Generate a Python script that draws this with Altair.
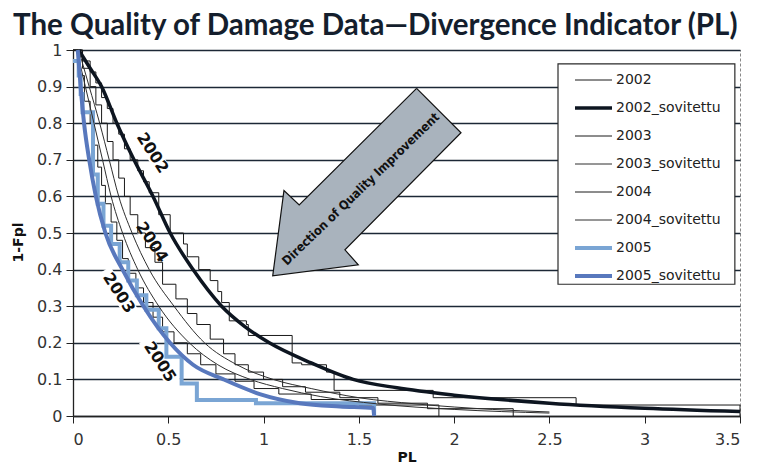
import altair as alt
import pandas as pd

# ---------------- data ----------------
series_names = ["2002", "2002_sovitettu", "2003", "2003_sovitettu",
                "2004", "2004_sovitettu", "2005", "2005_sovitettu"]

# empirical (step) series
x_2002 = [0.0, 0.05, 0.09, 0.12, 0.15, 0.18, 0.21, 0.24, 0.27, 0.3, 0.34, 0.37, 0.4, 0.45,
          0.51, 0.58, 0.6, 0.66, 0.72, 0.76, 0.78, 0.82, 0.91, 0.92, 1.15, 1.2, 1.33, 1.37,
          1.89, 2.64, 3.5]
y_2002 = [1.0, 0.97, 0.94, 0.91, 0.87, 0.84, 0.8, 0.77, 0.73, 0.7, 0.67, 0.64, 0.61, 0.55,
          0.5, 0.47, 0.435, 0.4, 0.37, 0.34, 0.31, 0.26, 0.25, 0.22, 0.145, 0.14, 0.12, 0.07,
          0.05, 0.03, 0.0]

x_2003 = [0.0, 0.03, 0.06, 0.09, 0.11, 0.13, 0.15, 0.17, 0.2, 0.23, 0.26, 0.29, 0.33, 0.37,
          0.42, 0.47, 0.53, 0.6, 0.67, 0.75, 0.85, 0.95, 1.08, 1.25, 1.5, 1.92]
y_2003 = [1.0, 0.93, 0.86, 0.8, 0.74, 0.68, 0.63, 0.58, 0.53, 0.48, 0.43, 0.39, 0.35, 0.31,
          0.27, 0.23, 0.2, 0.17, 0.14, 0.115, 0.095, 0.075, 0.06, 0.045, 0.03, 0.0]

x_2004 = [0.0, 0.05, 0.09, 0.12, 0.15, 0.18, 0.21, 0.24, 0.27, 0.3, 0.34, 0.38, 0.43, 0.47,
          0.54, 0.6, 0.65, 0.72, 0.79, 0.85, 0.92, 1.0, 1.1, 1.22, 1.4, 1.6, 1.86, 2.31]
y_2004 = [1.0, 0.95, 0.9, 0.85, 0.8, 0.75, 0.7, 0.65, 0.6, 0.55, 0.5, 0.46, 0.42, 0.36,
          0.32, 0.28, 0.25, 0.21, 0.17, 0.14, 0.12, 0.1, 0.08, 0.065, 0.05, 0.035, 0.02, 0.0]

x_2005 = [0.0, 0.03, 0.04, 0.05, 0.105, 0.13, 0.16, 0.2, 0.245, 0.29, 0.335, 0.385, 0.45,
          0.49, 0.57, 0.65, 0.96, 1.58]
y_2005 = [0.97, 0.93, 0.88, 0.83, 0.66, 0.58, 0.52, 0.47, 0.42, 0.37, 0.33, 0.29, 0.24,
          0.162, 0.089, 0.044, 0.035, 0.0]

# fitted ("sovitettu") series
x_2002_fit = [0.03, 0.09, 0.15, 0.23, 0.32, 0.42, 0.51, 0.63, 0.78, 0.9, 1.03, 1.25, 1.47,
              1.7, 2.0, 2.5, 3.0, 3.5]
y_2002_fit = [1.0, 0.95, 0.9, 0.8, 0.7, 0.6, 0.5, 0.4, 0.3, 0.245, 0.2, 0.145, 0.1, 0.077,
              0.057, 0.035, 0.021, 0.012]

x_2003_fit = [0.02, 0.065, 0.11, 0.155, 0.2, 0.26, 0.34, 0.45, 0.61, 0.76, 0.93, 1.1, 1.3,
              1.6, 2.0, 2.5]
y_2003_fit = [1.0, 0.9, 0.8, 0.7, 0.6, 0.5, 0.4, 0.3, 0.2, 0.14, 0.1, 0.075, 0.053, 0.033,
              0.018, 0.008]

x_2004_fit = [0.03, 0.085, 0.14, 0.19, 0.24, 0.31, 0.4, 0.53, 0.69, 0.86, 1.05, 1.25, 1.5,
              1.8, 2.2, 2.5]
y_2004_fit = [1.0, 0.9, 0.8, 0.7, 0.6, 0.5, 0.4, 0.3, 0.2, 0.14, 0.1, 0.075, 0.05, 0.033,
              0.018, 0.011]

x_2005_fit = [0.025, 0.04, 0.058, 0.085, 0.12, 0.17, 0.26, 0.37, 0.509, 0.63, 0.79, 0.98,
              1.19, 1.4, 1.575, 1.58]
y_2005_fit = [1.0, 0.9, 0.8, 0.7, 0.6, 0.5, 0.4, 0.3, 0.2, 0.14, 0.1, 0.06, 0.035, 0.026,
              0.022, 0.0]

# annotations
year_labels = ["2002", "2004", "2003", "2005"]
year_label_x = [0.417, 0.414, 0.241, 0.456]
year_label_y = [0.719, 0.475, 0.336, 0.148]

arrow_x = [1.803, 2.036, 1.427, 1.497, 1.048, 1.107, 1.187, 1.803]
arrow_y = [0.895, 0.774, 0.454, 0.413, 0.383, 0.616, 0.577, 0.895]
arrow_text = "Direction of Quality Improvement"
arrow_text_x = [1.51]
arrow_text_y = [0.62]

# legend frame (data units)
legend_box_x = [2.545]
legend_box_x2 = [3.473]
legend_box_y = [0.962]
legend_box_y2 = [0.36]

x_ticks = [0, 0.5, 1, 1.5, 2, 2.5, 3, 3.5]
y_ticks = [0, 0.1, 0.2, 0.3, 0.4, 0.5, 0.6, 0.7, 0.8, 0.9, 1.0]

# ---------------- styles ----------------
series_colors = ["#1a1a1a", "#0d1520", "#1a1a1a", "#2e2e2e",
                 "#1a1a1a", "#2e2e2e", "#7aa5d4", "#5878bd"]
series_widths = [1, 3.5, 1, 1, 1, 1, 4, 4]

# ---------------- tables ----------------
rows = []
def add(name, kind, xs, ys):
    for i, (a, b) in enumerate(zip(xs, ys)):
        rows.append({"series": name, "kind": kind, "x": a, "y": b, "i": i})

add("2002", "step", x_2002, y_2002)
add("2002_sovitettu", "fit", x_2002_fit, y_2002_fit)
add("2003", "step", x_2003, y_2003)
add("2003_sovitettu", "fit", x_2003_fit, y_2003_fit)
add("2004", "step", x_2004, y_2004)
add("2004_sovitettu", "fit", x_2004_fit, y_2004_fit)
add("2005", "step", x_2005, y_2005)
add("2005_sovitettu", "fit", x_2005_fit, y_2005_fit)
df = pd.DataFrame(rows)

labels_df = pd.DataFrame({"text": year_labels, "x": year_label_x, "y": year_label_y})
arrow_df = pd.DataFrame({"x": arrow_x, "y": arrow_y, "i": list(range(len(arrow_x)))})
arrow_text_df = pd.DataFrame({"x": arrow_text_x, "y": arrow_text_y, "text": [arrow_text]})
box_df = pd.DataFrame({"x": legend_box_x, "x2": legend_box_x2,
                       "y": legend_box_y, "y2": legend_box_y2})

FONT = "DejaVu Sans"
NARROW = "DejaVu Sans Condensed, Roboto Condensed, Liberation Sans Narrow, Roboto"

x_enc = alt.X("x:Q",
              scale=alt.Scale(domain=[0, 3.5], nice=False, zero=False),
              axis=alt.Axis(values=x_ticks, format="~g", grid=False, tickSize=7,
                            labelPadding=8, labelFontSize=16, labelFont=FONT,
                            labelColor="#333", tickColor="#222", domainColor="#222",
                            domainWidth=1.3, title="PL", titleFont=FONT,
                            titleFontSize=14, titleFontWeight="bold", titleColor="#111",
                            titleY=41, titleBaseline="middle"))
y_enc = alt.Y("y:Q",
              scale=alt.Scale(domain=[0, 1], nice=False, zero=False),
              axis=alt.Axis(values=y_ticks, format=".1~f", grid=True, gridColor="#1c2836",
                            gridWidth=1.3, tickSize=7, labelPadding=4, labelFontSize=16,
                            labelFont=FONT, labelColor="#333", tickColor="#222",
                            domainColor="#222", domainWidth=1.3, title="1-Fpl",
                            titleFont=FONT, titleFontSize=14, titleFontWeight="bold",
                            titleColor="#111", titleX=-55, titleY=192, titleAngle=270,
                            titleAlign="center", titleBaseline="middle"))

legend = alt.Legend(title=None, orient="none", legendX=500, legendY=16,
                    symbolType="stroke", symbolSize=1369, clipHeight=28, rowPadding=0,
                    padding=0, labelFont=FONT, labelFontSize=14, labelColor="#222",
                    labelOffset=2)

color_enc = alt.Color("series:N", scale=alt.Scale(domain=series_names, range=series_colors),
                      legend=legend)
width_enc = alt.StrokeWidth("series:N",
                            scale=alt.Scale(type="ordinal", domain=series_names,
                                            range=series_widths),
                            legend=legend)

boxes = alt.Chart(labels_df).mark_point(
    shape="M-1,-0.27L1,-0.27L1,0.27L-1,0.27Z", size=2916, filled=True,
    color="white", opacity=1, angle=57
).encode(x=x_enc, y=y_enc)

legend_frame = alt.Chart(box_df).mark_rect(
    fill="white", stroke="#2a2a2a", strokeWidth=1.2
).encode(x=x_enc, x2="x2:Q", y=y_enc, y2="y2:Q")

steps = alt.Chart(df).transform_filter(alt.datum.kind == "step").mark_line(
    interpolate="step-after"
).encode(x=x_enc, y=y_enc, color=color_enc, strokeWidth=width_enc, order="i:Q")

fits = alt.Chart(df).transform_filter(alt.datum.kind == "fit").mark_line(
    interpolate="monotone"
).encode(x=x_enc, y=y_enc, color=color_enc, strokeWidth=width_enc, order="i:Q")

arrow = alt.Chart(arrow_df).mark_line(
    fill="#a9b3bd", stroke="#111", strokeWidth=1.2, strokeJoin="miter"
).encode(x=x_enc, y=y_enc, order="i:Q")

arrow_label = alt.Chart(arrow_text_df).mark_text(
    angle=316, font=NARROW, fontWeight="bold", fontSize=12.5, color="#111"
).encode(x=x_enc, y=y_enc, text="text:N")

year_text = alt.Chart(labels_df).mark_text(
    angle=57, font=FONT, fontWeight="bold", fontSize=16, color="#111"
).encode(x=x_enc, y=y_enc, text="text:N")

chart = alt.layer(boxes, legend_frame, steps, fits, arrow, arrow_label, year_text).properties(
    width=667, height=366,
    title=alt.TitleParams("The Quality of Damage Data\u2014Divergence Indicator (PL)",
                          anchor="start", frame="group", dx=-60, font="Lato",
                          fontSize=29.5, fontWeight="bold", color="#141e2d", offset=1),
    autosize=alt.AutoSizeParams(type="none"),
    padding={"left": 65, "top": 42, "right": 14, "bottom": 48},
).configure_view(stroke="#888", strokeDash=[3, 2], strokeWidth=1)

chart.save("out.html", embed_options={"renderer": "svg", "actions": False})
